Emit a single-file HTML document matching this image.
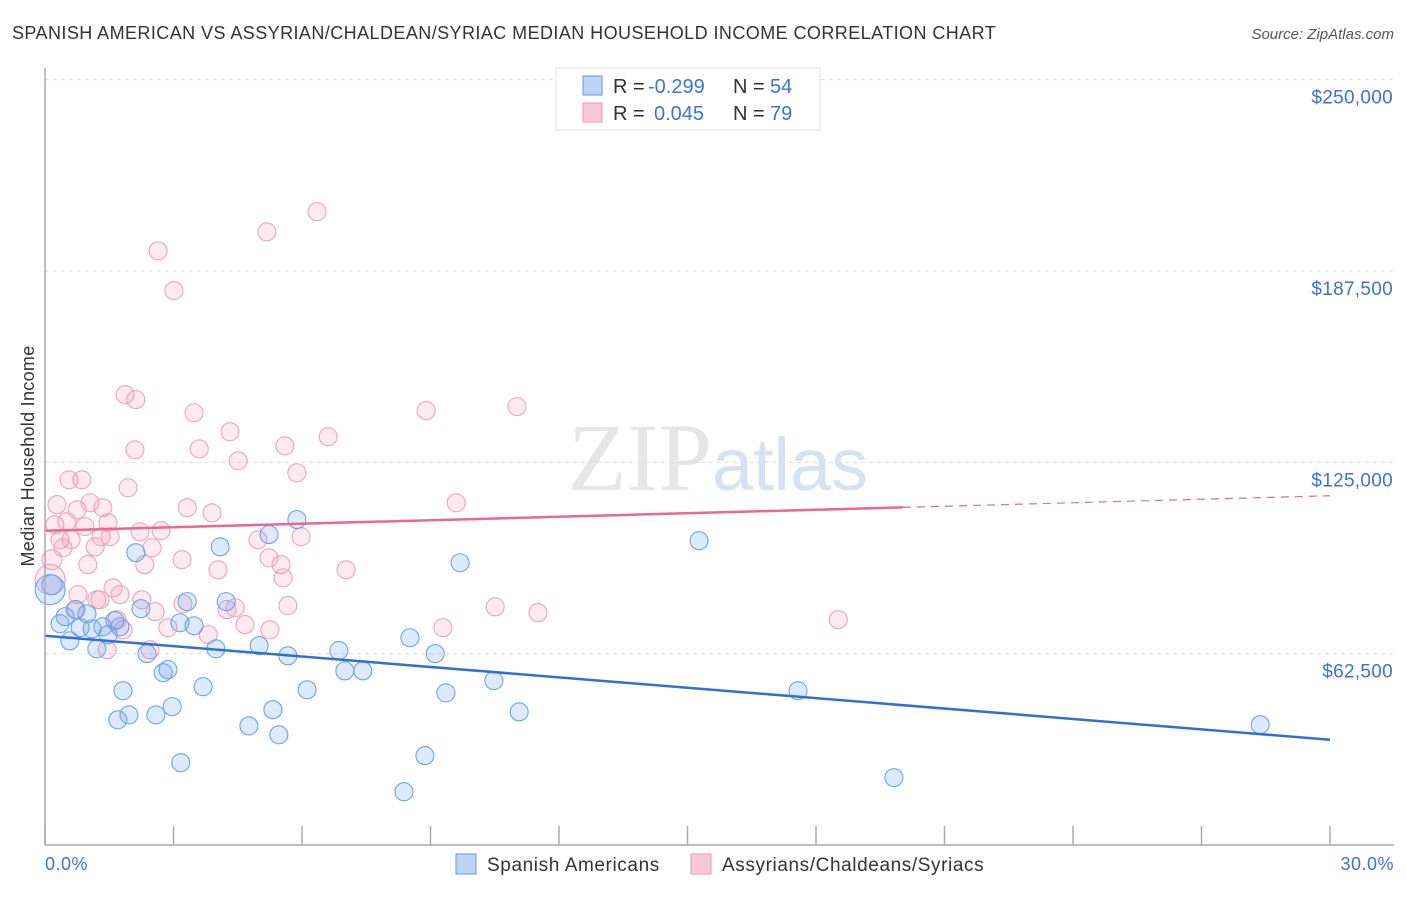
<!DOCTYPE html>
<html><head><meta charset="utf-8"><style>
body{margin:0;background:#fff;font-family:"Liberation Sans",sans-serif;}
</style></head><body>
<svg width="1406" height="892" xmlns="http://www.w3.org/2000/svg" id="svg" font-family="Liberation Sans, sans-serif">
<text x="12" y="39" font-size="18" fill="#333" letter-spacing="0.43">SPANISH AMERICAN VS ASSYRIAN/CHALDEAN/SYRIAC MEDIAN HOUSEHOLD INCOME CORRELATION CHART</text>
<text x="1394" y="39" font-size="15" fill="#555" text-anchor="end" font-style="italic">Source: ZipAtlas.com</text>
<text x="718" y="490" font-size="96" fill="#e6e6e6" text-anchor="middle" font-family="Liberation Serif, serif">ZIP<tspan fill="#d4e2f2" font-family="Liberation Sans, sans-serif" font-size="74">atlas</tspan></text>
<text transform="translate(34,456) rotate(-90)" font-size="18" fill="#333" text-anchor="middle" letter-spacing="0.3">Median Household Income</text>
<g id="grid"></g><g id="pts"></g><g id="lines"></g>
<line x1="45" y1="68" x2="45" y2="845" stroke="#aaa" stroke-width="1.5"/>
<line x1="45" y1="845" x2="1394" y2="845" stroke="#aaa" stroke-width="1.5"/>
<text x="45" y="870" font-size="18" fill="#3a73d6" letter-spacing="0.5">0.0%</text>
<text x="1394" y="870" font-size="18" fill="#3a73d6" text-anchor="end" letter-spacing="0.5">30.0%</text>
<g>
<rect x="556" y="68" width="264" height="62" fill="#fff" stroke="#ddd"/>
<rect x="583" y="76" width="19" height="19" fill="#bcd5f5" stroke="#5b9be8"/>
<rect x="583" y="103" width="19" height="19" fill="#f9c8d6" stroke="#e89ab3"/>
<text x="613" y="93" font-size="20" fill="#333">R = <tspan fill="#3a73d6" x="648">-0.299</tspan><tspan x="733">N = </tspan><tspan fill="#3a73d6" x="770">54</tspan></text>
<text x="613" y="120" font-size="20" fill="#333">R = <tspan fill="#3a73d6" x="654">0.045</tspan><tspan x="733">N = </tspan><tspan fill="#3a73d6" x="770">79</tspan></text>
</g>
<g>
<rect x="456" y="854" width="20" height="20" fill="#bcd5f5" stroke="#5b9be8"/>
<text x="487" y="871" font-size="19" fill="#333" letter-spacing="0.6">Spanish Americans</text>
<rect x="691" y="854" width="20" height="20" fill="#f9c8d6" stroke="#e89ab3"/>
<text x="722" y="871" font-size="19" fill="#333" letter-spacing="0.6">Assyrians/Chaldeans/Syriacs</text>
</g>
</svg>
<script>
const yTicks=[62500,125000,187500,250000];
const yTickLabels=["$62,500","$125,000","$187,500","$250,000"];
const xTicks=[0,3,6,9,12,15,18,21,24,27,30];
const blueX=[.12,.16,.35,.47,.58,.72,.82,.98,1.10,1.21,1.35,1.47,1.63,1.75,1.82,1.70,1.96,2.12,2.24,2.38,2.59,2.76,2.87,2.97,3.15,3.17,3.32,3.48,3.69,3.99,4.09,4.23,4.76,5.00,5.23,5.32,5.46,5.67,5.88,6.12,6.86,7.00,7.42,8.38,8.52,8.87,9.11,9.36,9.69,10.48,11.07,15.27,17.58,19.82,28.37];
const blueY=[83.4,85.0,72.3,74.6,66.7,76.9,71.0,75.5,70.6,64.1,71.3,68.7,73.3,71.3,50.4,40.9,42.5,95.5,77.2,62.5,42.5,56.3,57.3,45.2,72.6,26.9,79.5,71.6,51.7,64.1,97.4,79.5,38.9,65.1,101.4,44.2,36.0,61.8,106.3,50.7,63.5,56.9,56.9,17.4,67.7,29.2,62.5,49.7,92.2,53.7,43.5,99.4,50.4,22.0,39.3];
const pinkX=[.12,.16,.23,.28,.35,.42,.51,.56,.61,.70,.75,.77,.86,.93,1.00,1.05,1.17,1.21,1.28,1.31,1.35,1.47,1.45,1.52,1.59,1.68,1.75,1.82,1.87,1.94,2.10,2.12,2.22,2.26,2.33,2.45,2.50,2.57,2.64,2.71,2.87,3.01,3.20,3.22,3.32,3.48,3.60,3.81,3.90,4.04,4.25,4.32,4.44,4.51,4.67,4.97,5.18,5.23,5.25,5.51,5.56,5.60,5.67,5.88,5.98,6.35,6.61,7.03,8.90,9.29,9.60,10.51,11.02,11.51,18.52];
const pinkY=[86.7,93.2,104.6,111.2,99.7,97.1,105.6,119.3,99.7,76.9,109.5,81.8,119.3,104.0,91.6,111.8,97.4,80.1,80.1,100.7,110.2,105.3,63.8,100.7,84.0,73.6,81.8,70.3,147.1,116.7,129.1,145.5,102.3,80.1,91.6,63.8,97.1,76.2,194.1,102.7,71.0,181.1,93.2,78.8,110.2,141.2,129.4,68.7,108.5,89.9,76.9,135.0,77.5,125.5,72.0,99.7,200.3,93.8,70.3,91.6,87.3,130.4,78.2,121.6,100.7,206.9,133.4,89.9,141.9,71.0,111.8,77.8,143.2,75.9,73.6];
const blueTrend=[68.35,34.38];
const pinkTrend=[102.66,114.09];
const pinkSolidEnd=20.03;
const NS="http://www.w3.org/2000/svg";
const X=v=>45+v*(1285/30);
const Y=k=>845-k*1000*(765.33/250000);
function mk(t,a,p){const e=document.createElementNS(NS,t);for(const k in a)e.setAttribute(k,a[k]);p.appendChild(e);return e;}
const grid=document.getElementById('grid'),pts=document.getElementById('pts'),lines=document.getElementById('lines'),svg=document.getElementById('svg');
yTicks.forEach((t,i)=>{const y=Y(t/1000);
const l=mk('line',{x1:45,x2:1394,y1:y,y2:y,stroke:'#ddd','stroke-dasharray':'4,4'},grid);


const tx=mk('text',{x:1393,y:y+24,'font-size':19,fill:'#3a73d6','text-anchor':'end','letter-spacing':0.3},svg);
tx.textContent=yTickLabels[i];

});
xTicks.forEach(t=>{const x=X(t);
const l=mk('line',{x1:x,x2:x,y1:826,y2:845,stroke:'#aaa','stroke-width':1.5},grid);

});
function dots(xs,ys,fill,stroke,name){xs.forEach((x,i)=>{
const c=mk('circle',{cx:X(x),cy:Y(ys[i]),r:i<2?(i==0?15:10):9,fill:fill,stroke:stroke,'stroke-width':1.1},pts);

});}
dots(pinkX,pinkY,'rgba(240,140,170,0.18)','#eba3bb','pink-point');
dots(blueX,blueY,'rgba(100,160,240,0.22)','#6aa3ea','blue-point');
let l=mk('line',{x1:X(0),y1:Y(blueTrend[0]),x2:X(30),y2:Y(blueTrend[1]),stroke:'#2f6fd6','stroke-width':2.5},lines);


const pe=pinkTrend[0]+(pinkTrend[1]-pinkTrend[0])*pinkSolidEnd/30;
l=mk('line',{x1:X(0),y1:Y(pinkTrend[0]),x2:X(pinkSolidEnd),y2:Y(pe),stroke:'#e8688f','stroke-width':2.5},lines);


l=mk('line',{x1:X(pinkSolidEnd),y1:Y(pe),x2:X(30),y2:Y(pinkTrend[1]),stroke:'#e8688f','stroke-width':1.2,'stroke-dasharray':'8,6'},lines);


</script>
</body></html>
